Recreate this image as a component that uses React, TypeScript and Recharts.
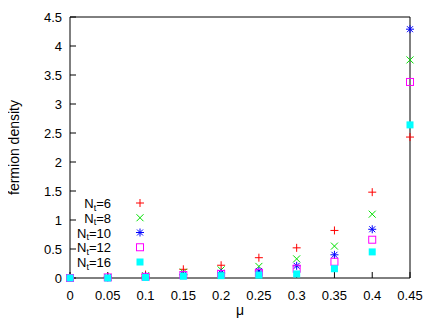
import { ScatterChart, Scatter, XAxis, YAxis } from 'recharts';

// chemical potential values (x)
const mu = [0, 0.05, 0.1, 0.15, 0.2, 0.25, 0.3, 0.35, 0.4, 0.45];

// fermion density per temporal extent
const nt6 = [0, 0.02, 0.06, 0.15, 0.22, 0.35, 0.52, 0.82, 1.48, 2.43];
const nt8 = [0, 0.01, 0.04, 0.1, 0.14, 0.2, 0.33, 0.55, 1.1, 3.76];
const nt10 = [0, 0.01, 0.03, 0.06, 0.09, 0.12, 0.21, 0.4, 0.84, 4.29];
const nt12 = [0, 0.01, 0.02, 0.05, 0.07, 0.09, 0.16, 0.28, 0.66, 3.38];
const nt16 = [0, 0, 0.01, 0.03, 0.04, 0.05, 0.07, 0.16, 0.45, 2.64];

const xTicks = [0, 0.05, 0.1, 0.15, 0.2, 0.25, 0.3, 0.35, 0.4, 0.45];
const yTicks = [0, 0.5, 1, 1.5, 2, 2.5, 3, 3.5, 4, 4.5];

type Kind = 'plus' | 'cross' | 'star' | 'box' | 'fbox';

const series: { nt: string; values: number[]; color: string; kind: Kind }[] = [
  { nt: '6', values: nt6, color: '#ff0000', kind: 'plus' },
  { nt: '8', values: nt8, color: '#00e000', kind: 'cross' },
  { nt: '10', values: nt10, color: '#0000ff', kind: 'star' },
  { nt: '12', values: nt12, color: '#ff00ff', kind: 'box' },
  { nt: '16', values: nt16, color: '#00ffff', kind: 'fbox' },
];

function Marker({ kind, color, cx, cy }: { kind: Kind; color: string; cx: number; cy: number }) {
  const r = 4;
  const d = 3.5;
  if (kind === 'plus') {
    return (
      <g stroke={color} strokeWidth={1}>
        <line x1={cx - r} y1={cy} x2={cx + r} y2={cy} />
        <line x1={cx} y1={cy - r} x2={cx} y2={cy + r} />
      </g>
    );
  }
  if (kind === 'cross') {
    return (
      <g stroke={color} strokeWidth={1}>
        <line x1={cx - d} y1={cy - d} x2={cx + d} y2={cy + d} />
        <line x1={cx - d} y1={cy + d} x2={cx + d} y2={cy - d} />
      </g>
    );
  }
  if (kind === 'star') {
    return (
      <g stroke={color} strokeWidth={1}>
        <line x1={cx - r} y1={cy} x2={cx + r} y2={cy} />
        <line x1={cx} y1={cy - r} x2={cx} y2={cy + r} />
        <line x1={cx - 3} y1={cy - 3} x2={cx + 3} y2={cy + 3} />
        <line x1={cx - 3} y1={cy + 3} x2={cx + 3} y2={cy - 3} />
      </g>
    );
  }
  if (kind === 'box') {
    return <rect x={cx - 3.5} y={cy - 3.5} width={7} height={7} fill="none" stroke={color} strokeWidth={1} />;
  }
  return <rect x={cx - 3.5} y={cy - 3.5} width={7} height={7} fill={color} />;
}

const tickStyle = { fontSize: 13, fill: '#000' };

export default function App() {
  return (
    <div style={{ position: 'relative', width: 428, height: 319, fontFamily: '"Liberation Sans", Arial, sans-serif' }}>
      <ScatterChart width={428} height={319} margin={{ top: 8, right: 25, bottom: 0, left: 0 }}>
        <XAxis
          xAxisId="b"
          type="number"
          dataKey="x"
          domain={[0, 0.45]}
          ticks={xTicks}
          interval={0}
          height={49}
          tickSize={-6}
          tickMargin={19}
          tick={tickStyle}
          stroke="#000"
          label={{ value: 'μ', position: 'insideBottom', offset: 12, fill: '#000', fontSize: 14 }}
        />
        <XAxis
          xAxisId="t"
          orientation="top"
          type="number"
          domain={[0, 0.45]}
          ticks={xTicks}
          interval={0}
          height={1}
          tickSize={-6}
          tickFormatter={() => ''}
          stroke="#000"
        />
        <YAxis
          yAxisId="l"
          type="number"
          dataKey="y"
          domain={[0, 4.5]}
          ticks={yTicks}
          interval={0}
          width={62}
          tickSize={-6}
          tickMargin={14}
          tick={tickStyle}
          stroke="#000"
          label={{
            value: 'fermion density',
            angle: -90,
            position: 'insideLeft',
            offset: 6,
            fill: '#000',
            fontSize: 14,
            style: { textAnchor: 'middle' },
          }}
        />
        <YAxis
          yAxisId="r"
          orientation="right"
          type="number"
          domain={[0, 4.5]}
          ticks={yTicks}
          interval={0}
          width={1}
          tickSize={-6}
          tickFormatter={() => ''}
          stroke="#000"
        />
        {series.map(s => (
          <Scatter
            key={s.nt}
            xAxisId="b"
            yAxisId="l"
            data={mu.map((m, i) => ({ x: m, y: s.values[i] }))}
            isAnimationActive={false}
            shape={(p: any) => <Marker kind={s.kind} color={s.color} cx={p.cx} cy={p.cy} />}
          />
        ))}
      </ScatterChart>
      <svg width={428} height={319} style={{ position: 'absolute', left: 0, top: 0, pointerEvents: 'none' }}>
        {series.map((s, i) => {
          const cy = 195 + i * 14.75;
          return (
            <g key={s.nt}>
              <text x={103} y={cy + 5} textAnchor="end" fontSize={13} fill="#000">
                N<tspan fontSize={9} dy={2.5}>t</tspan>
                <tspan dy={-2.5}>={s.nt}</tspan>
              </text>
              <Marker kind={s.kind} color={s.color} cx={132} cy={cy} />
            </g>
          );
        })}
      </svg>
    </div>
  );
}
